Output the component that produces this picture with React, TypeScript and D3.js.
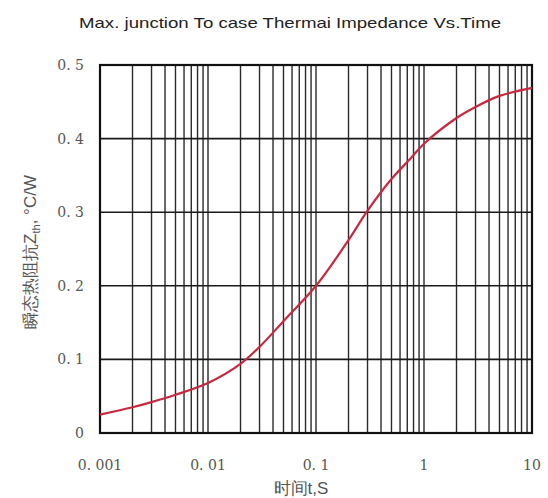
import * as d3 from "d3";

// curve
const times = [0.001, 0.002, 0.003, 0.005, 0.01, 0.02, 0.03, 0.05, 0.1, 0.2, 0.3, 0.5, 0.75, 1, 2, 3, 5, 10];
const zth = [0.025, 0.035, 0.042, 0.052, 0.068, 0.094, 0.117, 0.152, 0.2, 0.262, 0.302, 0.345, 0.373, 0.393, 0.428, 0.443, 0.458, 0.469];

const xTicks = [0.001, 0.01, 0.1, 1, 10];
const xTickLabels = ["0. 001", "0. 01", "0. 1", "1", "10"];
const yTicks = [0, 0.1, 0.2, 0.3, 0.4, 0.5];
const yTickLabels = ["0", "0. 1", "0. 2", "0. 3", "0. 4", "0. 5"];

const W = 548;
const H = 498;
const margin = { top: 65, right: 16, bottom: 65, left: 100 };

export default function App() {
    const x = d3.scaleLog().domain([0.001, 10]).range([margin.left, W - margin.right]);
    const y = d3.scaleLinear().domain([0, 0.5]).range([H - margin.bottom, margin.top]);

    // every 1..9 in each decade
    const vLines: number[] = [];
    for (let e = -3; e < 1; e++) {
        for (let m = 1; m <= 9; m++) vLines.push(m * Math.pow(10, e));
    }
    vLines.push(10);

    const line = d3.line<number>()
        .x((_, i) => x(times[i]))
        .y(d => y(d))
        .curve(d3.curveCatmullRom.alpha(0.5));

    const serif = "'DejaVu Serif', 'Liberation Serif', serif";
    const sans = "'Liberation Sans', Arial, sans-serif";
    const [x0, x1] = x.range();
    const [y0, y1] = y.range();

    return (
        <svg width={W} height={H} style={{ position: "absolute", left: 0, top: 0, background: "#fff" }}>
            <text x={79} y={28} fontFamily={sans} fontSize={15} fill="#222" textLength={422} lengthAdjust="spacingAndGlyphs">
                Max. junction To case Thermai Impedance Vs.Time
            </text>

            {/* grid */}
            {vLines.map((v, i) => (
                <line key={"v" + i} x1={x(v)} x2={x(v)} y1={y1} y2={y0} stroke="#2a2a2a" strokeWidth={1.4} />
            ))}
            {yTicks.map((v, i) => (
                <line key={"h" + i} x1={x0} x2={x1} y1={y(v)} y2={y(v)} stroke="#1a1a1a" strokeWidth={1.6} />
            ))}
            <rect x={x0} y={y1} width={x1 - x0} height={y0 - y1} fill="none" stroke="#111" strokeWidth={2.2} />

            {/* curve */}
            <path d={line(zth) || ""} fill="none" stroke="#c8293e" strokeWidth={2.2} />

            {/* tick labels */}
            {yTicks.map((v, i) => (
                <text key={"yl" + i} x={84} y={y(v)} dy="0.35em" textAnchor="end" fontFamily={serif} fontSize={14} fill="#555">
                    {yTickLabels[i]}
                </text>
            ))}
            {xTicks.map((v, i) => (
                <text key={"xl" + i} x={x(v)} y={470} textAnchor="middle" fontFamily={serif} fontSize={14} fill="#555">
                    {xTickLabels[i]}
                </text>
            ))}

            {/* axis titles */}
            <text x={301} y={494} textAnchor="middle" fontFamily={sans} fontSize={17} fill="#555">
                时间t,S
            </text>
            <text transform="translate(36,252) rotate(-90)" textAnchor="middle" fontFamily={sans} fontSize={17} fill="#555">
                瞬态热阻抗Z<tspan fontSize={11} dy={4}>th</tspan><tspan dy={-4}>, °C/W</tspan>
            </text>
        </svg>
    );
}
